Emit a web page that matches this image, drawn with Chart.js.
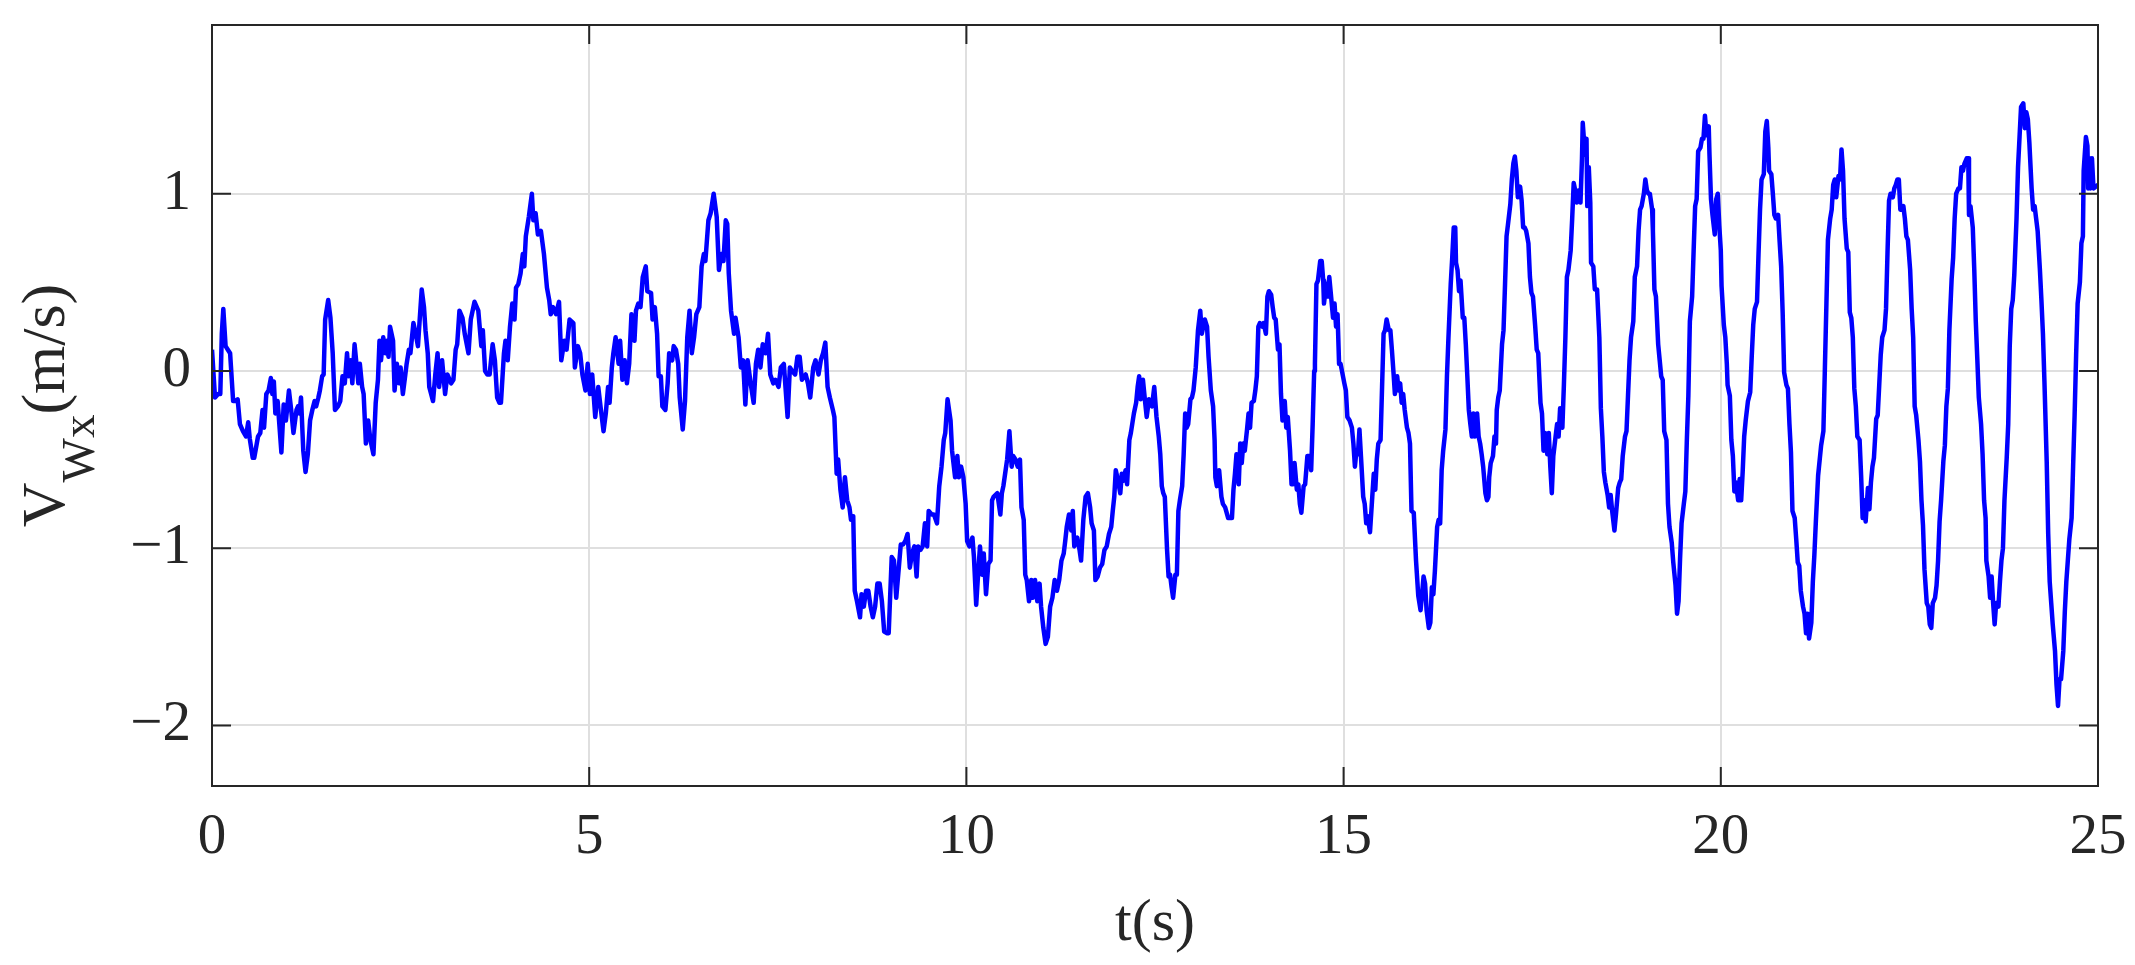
<!DOCTYPE html>
<html>
<head>
<meta charset="utf-8">
<title>Wind velocity V_Wx</title>
<script src="https://cdn.jsdelivr.net/npm/chart.js@4"></script>
<style>
  html, body { margin: 0; padding: 0; background: #ffffff; }
  #wrap { width: 2135px; height: 965px; }
</style>
</head>
<body>
<div id="wrap"><canvas id="wind-chart" width="2135" height="965"></canvas></div>
<script>
// time (s) and wind speed V_Wx (m/s)
const timeS = [
  0.00, 0.04, 0.08, 0.11, 0.13, 0.15, 0.18, 0.21, 0.24, 0.28,
  0.31, 0.34, 0.37, 0.41, 0.45, 0.48, 0.50, 0.54, 0.56, 0.61,
  0.64, 0.67, 0.69, 0.72, 0.75, 0.78, 0.80, 0.82, 0.84, 0.87,
  0.92, 0.95, 0.98, 1.02, 1.05, 1.08, 1.12, 1.14, 1.16, 1.18,
  1.21, 1.24, 1.27, 1.30, 1.33, 1.36, 1.38, 1.41, 1.43, 1.46,
  1.48, 1.50, 1.54, 1.57, 1.60, 1.63, 1.67, 1.70, 1.73, 1.76,
  1.79, 1.81, 1.84, 1.86, 1.89, 1.91, 1.94, 1.96, 1.99, 2.01,
  2.04, 2.07, 2.10, 2.14, 2.17, 2.20, 2.22, 2.24, 2.27, 2.30,
  2.32, 2.34, 2.36, 2.40, 2.42, 2.45, 2.48, 2.50, 2.53, 2.56,
  2.58, 2.61, 2.63, 2.67, 2.70, 2.73, 2.75, 2.78, 2.81, 2.83,
  2.86, 2.88, 2.93, 2.96, 2.99, 3.01, 3.05, 3.09, 3.12, 3.17,
  3.20, 3.23, 3.25, 3.28, 3.32, 3.35, 3.40, 3.43, 3.48, 3.53,
  3.57, 3.59, 3.62, 3.65, 3.68, 3.72, 3.75, 3.78, 3.81, 3.83,
  3.87, 3.89, 3.92, 3.95, 3.98, 4.01, 4.03, 4.06, 4.09, 4.12,
  4.14, 4.16, 4.20, 4.24, 4.26, 4.29, 4.32, 4.36, 4.40, 4.44,
  4.47, 4.49, 4.52, 4.56, 4.60, 4.63, 4.67, 4.70, 4.74, 4.79,
  4.81, 4.85, 4.88, 4.91, 4.95, 4.98, 5.01, 5.04, 5.08, 5.12,
  5.15, 5.19, 5.22, 5.25, 5.27, 5.30, 5.32, 5.35, 5.39, 5.41,
  5.44, 5.47, 5.50, 5.53, 5.56, 5.60, 5.62, 5.65, 5.68, 5.71,
  5.75, 5.77, 5.82, 5.84, 5.87, 5.90, 5.92, 5.95, 5.97, 6.01,
  6.04, 6.06, 6.10, 6.12, 6.15, 6.18, 6.20, 6.24, 6.27, 6.30,
  6.33, 6.36, 6.39, 6.42, 6.46, 6.49, 6.52, 6.54, 6.58, 6.61,
  6.65, 6.69, 6.72, 6.75, 6.78, 6.81, 6.83, 6.85, 6.88, 6.92,
  6.94, 6.98, 7.01, 7.04, 7.07, 7.10, 7.14, 7.18, 7.21, 7.24,
  7.27, 7.30, 7.34, 7.37, 7.40, 7.44, 7.47, 7.51, 7.54, 7.58,
  7.63, 7.66, 7.69, 7.73, 7.76, 7.79, 7.82, 7.87, 7.90, 7.93,
  7.97, 8.00, 8.04, 8.07, 8.10, 8.13, 8.16, 8.19, 8.23, 8.25,
  8.28, 8.30, 8.33, 8.36, 8.39, 8.42, 8.45, 8.47, 8.50, 8.52,
  8.55, 8.59, 8.61, 8.64, 8.67, 8.70, 8.73, 8.76, 8.79, 8.82,
  8.85, 8.88, 8.91, 8.95, 8.97, 9.01, 9.04, 9.07, 9.10, 9.13,
  9.16, 9.19, 9.22, 9.25, 9.28, 9.31, 9.34, 9.36, 9.39, 9.42,
  9.45, 9.48, 9.50, 9.54, 9.57, 9.61, 9.64, 9.67, 9.70, 9.72,
  9.75, 9.79, 9.81, 9.85, 9.88, 9.90, 9.93, 9.96, 9.99, 10.01,
  10.04, 10.08, 10.10, 10.13, 10.15, 10.18, 10.21, 10.23, 10.26, 10.29,
  10.32, 10.34, 10.36, 10.41, 10.43, 10.45, 10.47, 10.49, 10.52, 10.54,
  10.57, 10.60, 10.62, 10.65, 10.68, 10.71, 10.73, 10.76, 10.78, 10.80,
  10.83, 10.86, 10.88, 10.91, 10.94, 10.97, 10.99, 11.02, 11.05, 11.08,
  11.11, 11.14, 11.17, 11.20, 11.23, 11.26, 11.29, 11.31, 11.33, 11.36,
  11.39, 11.41, 11.43, 11.47, 11.50, 11.52, 11.55, 11.58, 11.61, 11.64,
  11.66, 11.69, 11.71, 11.74, 11.77, 11.80, 11.83, 11.86, 11.89, 11.92,
  11.94, 11.96, 11.98, 12.01, 12.04, 12.06, 12.08, 12.11, 12.13, 12.16,
  12.18, 12.22, 12.25, 12.27, 12.29, 12.31, 12.34, 12.37, 12.39, 12.42,
  12.46, 12.49, 12.52, 12.55, 12.57, 12.59, 12.61, 12.63, 12.66, 12.68,
  12.70, 12.72, 12.74, 12.77, 12.79, 12.81, 12.83, 12.86, 12.88, 12.90,
  12.92, 12.94, 12.97, 12.99, 13.01, 13.04, 13.06, 13.07, 13.10, 13.12,
  13.16, 13.19, 13.21, 13.24, 13.27, 13.29, 13.30, 13.32, 13.35, 13.38,
  13.40, 13.43, 13.47, 13.50, 13.52, 13.54, 13.56, 13.58, 13.61, 13.63,
  13.65, 13.67, 13.69, 13.72, 13.74, 13.76, 13.78, 13.81, 13.83, 13.85,
  13.87, 13.89, 13.92, 13.94, 13.97, 13.99, 14.01, 14.04, 14.06, 14.08,
  14.10, 14.13, 14.15, 14.17, 14.19, 14.22, 14.24, 14.26, 14.29, 14.31,
  14.33, 14.35, 14.38, 14.40, 14.42, 14.44, 14.47, 14.49, 14.52, 14.55,
  14.57, 14.59, 14.61, 14.62, 14.64, 14.66, 14.69, 14.71, 14.73, 14.74,
  14.77, 14.79, 14.81, 14.83, 14.86, 14.88, 14.90, 14.92, 14.94, 14.96,
  15.01, 15.03, 15.05, 15.08, 15.11, 15.13, 15.15, 15.17, 15.19, 15.21,
  15.23, 15.26, 15.28, 15.30, 15.32, 15.35, 15.38, 15.40, 15.42, 15.44,
  15.46, 15.49, 15.51, 15.53, 15.55, 15.57, 15.60, 15.62, 15.64, 15.66,
  15.68, 15.71, 15.73, 15.75, 15.77, 15.79, 15.81, 15.84, 15.86, 15.88,
  15.90, 15.93, 15.96, 15.99, 16.02, 16.04, 16.06, 16.08, 16.10, 16.13,
  16.15, 16.17, 16.19, 16.21, 16.24, 16.26, 16.28, 16.30, 16.32, 16.35,
  16.37, 16.39, 16.42, 16.44, 16.46, 16.48, 16.49, 16.51, 16.53, 16.55,
  16.58, 16.60, 16.62, 16.64, 16.66, 16.68, 16.70, 16.72, 16.74, 16.77,
  16.79, 16.81, 16.83, 16.85, 16.88, 16.90, 16.92, 16.93, 16.95, 16.98,
  17.00, 17.02, 17.03, 17.05, 17.07, 17.10, 17.12, 17.14, 17.16, 17.18,
  17.21, 17.23, 17.25, 17.27, 17.29, 17.31, 17.34, 17.36, 17.38, 17.40,
  17.42, 17.45, 17.47, 17.49, 17.51, 17.54, 17.56, 17.58, 17.61, 17.63,
  17.65, 17.67, 17.70, 17.72, 17.74, 17.76, 17.78, 17.81, 17.83, 17.85,
  17.87, 17.90, 17.92, 17.94, 17.96, 17.98, 18.01, 18.03, 18.05, 18.07,
  18.09, 18.12, 18.14, 18.16, 18.17, 18.20, 18.22, 18.23, 18.25, 18.27,
  18.28, 18.31, 18.33, 18.36, 18.39, 18.41, 18.43, 18.45, 18.47, 18.50,
  18.52, 18.54, 18.56, 18.59, 18.61, 18.64, 18.66, 18.68, 18.70, 18.73,
  18.75, 18.77, 18.79, 18.81, 18.84, 18.86, 18.89, 18.91, 18.93, 18.95,
  18.98, 19.00, 19.02, 19.04, 19.06, 19.09, 19.10, 19.12, 19.14, 19.17,
  19.19, 19.21, 19.23, 19.25, 19.28, 19.30, 19.32, 19.35, 19.37, 19.40,
  19.42, 19.44, 19.46, 19.48, 19.51, 19.53, 19.55, 19.57, 19.59, 19.62,
  19.64, 19.66, 19.68, 19.70, 19.73, 19.75, 19.77, 19.79, 19.81, 19.84,
  19.85, 19.87, 19.89, 19.92, 19.94, 19.96, 19.98, 20.00, 20.01, 20.04,
  20.06, 20.08, 20.09, 20.12, 20.14, 20.16, 20.18, 20.20, 20.23, 20.25,
  20.27, 20.29, 20.31, 20.33, 20.36, 20.39, 20.41, 20.43, 20.45, 20.48,
  20.50, 20.52, 20.54, 20.57, 20.59, 20.61, 20.63, 20.64, 20.67, 20.69,
  20.71, 20.73, 20.76, 20.78, 20.80, 20.82, 20.84, 20.87, 20.89, 20.91,
  20.93, 20.95, 20.98, 21.00, 21.02, 21.04, 21.06, 21.09, 21.11, 21.13,
  21.15, 21.17, 21.20, 21.22, 21.24, 21.26, 21.29, 21.33, 21.36, 21.38,
  21.40, 21.42, 21.45, 21.47, 21.49, 21.51, 21.53, 21.56, 21.58, 21.60,
  21.62, 21.64, 21.67, 21.69, 21.71, 21.73, 21.75, 21.77, 21.79, 21.81,
  21.84, 21.86, 21.88, 21.90, 21.92, 21.95, 21.97, 21.99, 22.01, 22.03,
  22.06, 22.08, 22.10, 22.12, 22.14, 22.17, 22.19, 22.21, 22.23, 22.25,
  22.28, 22.30, 22.32, 22.34, 22.36, 22.38, 22.40, 22.42, 22.44, 22.46,
  22.48, 22.51, 22.53, 22.55, 22.57, 22.59, 22.62, 22.64, 22.66, 22.68,
  22.70, 22.73, 22.75, 22.77, 22.79, 22.81, 22.84, 22.86, 22.88, 22.90,
  22.92, 22.95, 22.97, 22.99, 23.01, 23.03, 23.06, 23.08, 23.10, 23.12,
  23.15, 23.17, 23.19, 23.21, 23.23, 23.26, 23.28, 23.29, 23.31, 23.34,
  23.36, 23.38, 23.40, 23.42, 23.45, 23.47, 23.49, 23.51, 23.52, 23.55,
  23.57, 23.59, 23.61, 23.63, 23.65, 23.68, 23.70, 23.72, 23.74, 23.76,
  23.79, 23.81, 23.83, 23.85, 23.87, 23.89, 23.92, 23.94, 23.96, 23.98,
  24.01, 24.03, 24.05, 24.07, 24.09, 24.12, 24.14, 24.16, 24.18, 24.20,
  24.23, 24.25, 24.27, 24.29, 24.32, 24.34, 24.36, 24.38, 24.40, 24.43,
  24.45, 24.47, 24.49, 24.51, 24.54, 24.56, 24.58, 24.60, 24.62, 24.65,
  24.67, 24.69, 24.71, 24.73, 24.76, 24.78, 24.80, 24.81, 24.84, 24.86,
  24.87, 24.89, 24.90, 24.92, 24.94, 25.00
];

const windVx = [
  0.12, -0.15, -0.13, -0.13, 0.21, 0.35, 0.14, 0.12, 0.10, -0.17,
  -0.17, -0.16, -0.30, -0.34, -0.37, -0.29, -0.38, -0.49, -0.49, -0.37,
  -0.35, -0.22, -0.32, -0.13, -0.11, -0.04, -0.13, -0.06, -0.24, -0.17,
  -0.46, -0.19, -0.28, -0.11, -0.22, -0.35, -0.22, -0.20, -0.24, -0.15,
  -0.45, -0.57, -0.47, -0.28, -0.22, -0.17, -0.20, -0.15, -0.11, -0.03,
  -0.02, 0.29, 0.40, 0.30, 0.10, -0.22, -0.20, -0.17, -0.03, -0.07,
  0.10, -0.03, 0.06, -0.07, 0.15, 0.06, -0.07, 0.04, -0.09, -0.13,
  -0.41, -0.28, -0.39, -0.47, -0.18, -0.05, 0.17, 0.06, 0.19, 0.10,
  0.17, 0.08, 0.25, 0.17, -0.11, 0.04, -0.07, 0.02, -0.13, -0.03,
  0.04, 0.12, 0.10, 0.27, 0.21, 0.14, 0.27, 0.46, 0.36, 0.23,
  0.10, -0.09, -0.17, -0.02, 0.10, -0.09, 0.06, -0.13, -0.02, -0.07,
  -0.05, 0.12, 0.15, 0.34, 0.30, 0.21, 0.10, 0.29, 0.39, 0.34,
  0.14, 0.23, 0.00, -0.02, -0.02, 0.15, 0.06, -0.15, -0.18, -0.18,
  0.10, 0.17, 0.06, 0.25, 0.38, 0.29, 0.47, 0.49, 0.55, 0.66,
  0.59, 0.76, 0.87, 1.00, 0.85, 0.89, 0.77, 0.79, 0.66, 0.47,
  0.40, 0.32, 0.36, 0.32, 0.39, 0.06, 0.17, 0.12, 0.29, 0.27,
  0.02, 0.14, 0.10, -0.02, -0.11, 0.04, -0.13, -0.02, -0.26, -0.09,
  -0.20, -0.34, -0.24, -0.09, -0.18, 0.02, 0.10, 0.19, 0.04, 0.17,
  -0.05, 0.06, -0.07, 0.04, 0.32, 0.17, 0.34, 0.38, 0.36, 0.53,
  0.59, 0.45, 0.44, 0.29, 0.36, 0.21, -0.03, -0.03, -0.20, -0.22,
  -0.07, 0.10, 0.06, 0.14, 0.12, 0.04, -0.15, -0.33, -0.17, 0.19,
  0.34, 0.10, 0.19, 0.32, 0.36, 0.59, 0.66, 0.62, 0.85, 0.89,
  1.00, 0.87, 0.57, 0.66, 0.62, 0.85, 0.83, 0.55, 0.34, 0.21,
  0.30, 0.19, 0.02, 0.06, -0.19, 0.06, -0.07, -0.18, 0.04, 0.12,
  0.02, 0.15, 0.10, 0.21, -0.02, -0.07, -0.05, -0.09, 0.02, 0.04,
  -0.26, 0.02, 0.00, -0.02, 0.08, 0.08, -0.05, -0.02, -0.07, -0.15,
  0.02, 0.06, -0.02, 0.06, 0.10, 0.16, -0.09, -0.15, -0.22, -0.26,
  -0.58, -0.50, -0.67, -0.77, -0.60, -0.73, -0.77, -0.84, -0.82, -1.24,
  -1.30, -1.39, -1.26, -1.33, -1.24, -1.24, -1.33, -1.39, -1.33, -1.20,
  -1.20, -1.30, -1.47, -1.48, -1.48, -1.05, -1.07, -1.28, -1.13, -0.98,
  -0.98, -0.96, -0.92, -1.11, -1.03, -0.99, -1.16, -0.99, -1.01, -0.99,
  -0.86, -0.99, -0.79, -0.81, -0.81, -0.86, -0.65, -0.54, -0.39, -0.35,
  -0.16, -0.28, -0.45, -0.60, -0.48, -0.60, -0.54, -0.60, -0.75, -0.96,
  -0.99, -0.94, -1.05, -1.32, -1.18, -0.99, -1.15, -1.03, -1.26, -1.09,
  -1.07, -0.73, -0.71, -0.69, -0.75, -0.81, -0.69, -0.65, -0.56, -0.50,
  -0.34, -0.54, -0.48, -0.50, -0.54, -0.50, -0.77, -0.84, -1.15, -1.18,
  -1.30, -1.18, -1.28, -1.18, -1.30, -1.20, -1.33, -1.45, -1.54, -1.50,
  -1.33, -1.28, -1.18, -1.24, -1.18, -1.07, -1.03, -0.96, -0.88, -0.81,
  -0.90, -0.79, -0.99, -0.94, -1.01, -1.07, -0.84, -0.71, -0.69, -0.77,
  -0.86, -0.90, -1.18, -1.16, -1.11, -1.09, -1.01, -0.99, -0.92, -0.88,
  -0.79, -0.71, -0.56, -0.62, -0.69, -0.58, -0.62, -0.56, -0.64, -0.39,
  -0.35, -0.24, -0.18, -0.09, -0.03, -0.16, -0.05, -0.18, -0.26, -0.16,
  -0.20, -0.09, -0.26, -0.37, -0.47, -0.65, -0.69, -0.71, -1.01, -1.16,
  -1.15, -1.22, -1.28, -1.15, -1.15, -0.79, -0.73, -0.65, -0.47, -0.24,
  -0.32, -0.30, -0.16, -0.15, -0.11, 0.02, 0.16, 0.23, 0.34, 0.21,
  0.29, 0.25, 0.08, -0.11, -0.20, -0.39, -0.60, -0.65, -0.56, -0.71,
  -0.75, -0.77, -0.83, -0.83, -0.83, -0.67, -0.58, -0.47, -0.64, -0.41,
  -0.52, -0.41, -0.45, -0.33, -0.24, -0.32, -0.18, -0.17, -0.11, -0.03,
  0.25, 0.27, 0.25, 0.27, 0.21, 0.42, 0.45, 0.43, 0.36, 0.30,
  0.29, 0.12, 0.15, -0.13, -0.28, -0.17, -0.32, -0.26, -0.45, -0.64,
  -0.64, -0.52, -0.67, -0.64, -0.75, -0.80, -0.65, -0.64, -0.48, -0.48,
  -0.56, -0.30, 0.00, 0.04, 0.49, 0.51, 0.62, 0.62, 0.51, 0.38,
  0.49, 0.42, 0.53, 0.44, 0.30, 0.38, 0.25, 0.32, 0.04, 0.04,
  -0.07, -0.11, -0.26, -0.28, -0.32, -0.41, -0.54, -0.45, -0.47, -0.33,
  -0.48, -0.71, -0.75, -0.86, -0.82, -0.91, -0.71, -0.58, -0.67, -0.50,
  -0.41, -0.39, -0.09, 0.21, 0.23, 0.29, 0.23, 0.23, 0.12, 0.00,
  -0.13, -0.03, -0.11, -0.07, -0.18, -0.13, -0.22, -0.32, -0.35, -0.41,
  -0.79, -0.80, -1.07, -1.27, -1.35, -1.26, -1.16, -1.20, -1.35, -1.45,
  -1.42, -1.22, -1.26, -1.13, -0.88, -0.84, -0.86, -0.56, -0.45, -0.33,
  -0.03, 0.19, 0.49, 0.64, 0.81, 0.81, 0.61, 0.57, 0.45, 0.51,
  0.30, 0.30, 0.15, -0.03, -0.22, -0.30, -0.37, -0.24, -0.37, -0.24,
  -0.37, -0.41, -0.47, -0.54, -0.69, -0.73, -0.71, -0.60, -0.52, -0.48,
  -0.37, -0.41, -0.22, -0.15, -0.11, 0.15, 0.23, 0.49, 0.76, 0.83,
  0.94, 1.08, 1.17, 1.21, 1.13, 0.98, 1.04, 0.96, 0.81, 0.81,
  0.79, 0.72, 0.53, 0.44, 0.42, 0.25, 0.12, 0.10, -0.18, -0.24,
  -0.45, -0.35, -0.47, -0.35, -0.54, -0.69, -0.48, -0.37, -0.30, -0.37,
  -0.21, -0.32, -0.08, 0.19, 0.53, 0.57, 0.68, 0.86, 1.06, 1.02,
  0.95, 1.02, 0.95, 1.20, 1.40, 1.22, 1.31, 0.93, 1.15, 0.95,
  0.61, 0.59, 0.46, 0.46, 0.19, -0.21, -0.37, -0.57, -0.63, -0.70,
  -0.77, -0.70, -0.79, -0.90, -0.81, -0.66, -0.63, -0.61, -0.48, -0.37,
  -0.34, -0.14, 0.06, 0.19, 0.28, 0.53, 0.59, 0.79, 0.91, 0.93,
  1.00, 1.08, 1.02, 1.00, 1.00, 0.91, 0.79, 0.46, 0.42, 0.15,
  0.06, -0.03, -0.05, -0.34, -0.39, -0.75, -0.88, -0.97, -1.08, -1.21,
  -1.37, -1.30, -1.06, -0.86, -0.75, -0.68, -0.39, -0.14, 0.28, 0.42,
  0.68, 0.93, 0.97, 1.24, 1.26, 1.31, 1.31, 1.44, 1.33, 1.38,
  1.22, 0.97, 0.88, 0.77, 0.97, 1.00, 0.82, 0.68, 0.48, 0.26,
  0.19, 0.04, -0.08, -0.14, -0.39, -0.48, -0.68, -0.63, -0.73, -0.61,
  -0.73, -0.57, -0.37, -0.28, -0.17, -0.12, 0.08, 0.26, 0.35, 0.39,
  0.66, 0.91, 1.08, 1.11, 1.35, 1.41, 1.26, 1.13, 1.11, 1.00,
  0.88, 0.86, 0.88, 0.73, 0.59, 0.33, -0.01, -0.08, -0.10, -0.30,
  -0.46, -0.79, -0.83, -0.95, -1.08, -1.10, -1.24, -1.33, -1.37, -1.48,
  -1.37, -1.51, -1.42, -1.19, -1.04, -0.85, -0.59, -0.42, -0.34, 0.02,
  0.38, 0.74, 0.86, 0.91, 1.05, 1.08, 0.98, 1.10, 1.08, 1.25,
  1.13, 0.86, 0.69, 0.67, 0.33, 0.30, 0.19, -0.10, -0.20, -0.37,
  -0.39, -0.59, -0.83, -0.73, -0.85, -0.66, -0.78, -0.63, -0.54, -0.49,
  -0.27, -0.25, -0.08, 0.09, 0.19, 0.23, 0.35, 0.67, 0.96, 1.00,
  0.98, 1.03, 1.05, 1.08, 1.08, 0.91, 0.91, 0.93, 0.86, 0.76,
  0.74, 0.57, 0.35, 0.19, -0.20, -0.25, -0.39, -0.51, -0.73, -0.87,
  -1.12, -1.31, -1.33, -1.43, -1.45, -1.31, -1.28, -1.21, -1.07, -0.85,
  -0.73, -0.51, -0.42, -0.20, -0.10, 0.23, 0.52, 0.64, 0.86, 1.00,
  1.03, 1.03, 1.15, 1.13, 1.17, 1.20, 1.20, 0.88, 0.93, 0.81,
  0.57, 0.28, 0.07, -0.15, -0.30, -0.47, -0.73, -0.83, -1.07, -1.16,
  -1.28, -1.16, -1.31, -1.43, -1.31, -1.33, -1.19, -1.07, -1.00, -0.73,
  -0.49, -0.30, 0.14, 0.35, 0.40, 0.54, 0.86, 1.15, 1.32, 1.49,
  1.51, 1.37, 1.46, 1.42, 1.29, 1.03, 0.91, 0.93, 0.86, 0.79,
  0.57, 0.40, 0.21, -0.06, -0.51, -0.92, -1.19, -1.31, -1.43, -1.58,
  -1.77, -1.89, -1.74, -1.74, -1.58, -1.36, -1.19, -1.07, -0.95, -0.83,
  -0.54, -0.25, 0.09, 0.38, 0.50, 0.72, 0.76, 1.13, 1.32, 1.27,
  1.03, 1.20, 1.03, 1.20, 1.03, 1.05
];

const xTicks = [0, 5, 10, 15, 20, 25];
const yTicks = [-2, -1, 0, 1];
const xLimits = [0, 25];
const yLimits = [-2.342, 1.952];

const axisColor = '#262626';
const gridColor = '#dfdfdf';
const serif = '"Liberation Serif", "Times New Roman", serif';

// box round the plot + inward tick marks on all four sides, like matlab
const matlabAxes = {
  id: 'matlabAxes',
  afterDatasetsDraw(chart) {
    const { ctx, chartArea: a, scales: { x, y } } = chart;
    const len = 19;
    ctx.save();
    ctx.strokeStyle = axisColor;
    ctx.lineWidth = 2;
    ctx.strokeRect(a.left, a.top, a.right - a.left, a.bottom - a.top);
    ctx.beginPath();
    xTicks.forEach(v => {
      const px = x.getPixelForValue(v);
      ctx.moveTo(px, a.bottom); ctx.lineTo(px, a.bottom - len);
      ctx.moveTo(px, a.top); ctx.lineTo(px, a.top + len);
    });
    yTicks.forEach(v => {
      const py = y.getPixelForValue(v);
      ctx.moveTo(a.left, py); ctx.lineTo(a.left + len, py);
      ctx.moveTo(a.right, py); ctx.lineTo(a.right - len, py);
    });
    ctx.stroke();
    ctx.restore();
  },
  afterDraw(chart) {
    const { ctx, chartArea: a } = chart;
    ctx.save();
    ctx.fillStyle = axisColor;
    ctx.textBaseline = 'alphabetic';

    // x title
    ctx.font = '60px ' + serif;
    ctx.textAlign = 'center';
    ctx.fillText('t(s)', (a.left + a.right) / 2, 940);

    // y title with subscript, rotated
    ctx.textAlign = 'left';
    ctx.translate(64, (a.top + a.bottom) / 2);
    ctx.rotate(-Math.PI / 2);
    const mainFont = '62px ' + serif;
    const subFont = '47px ' + serif;
    ctx.font = mainFont;
    const wV = ctx.measureText('V').width;
    const wUnit = ctx.measureText('(m/s)').width;
    ctx.font = subFont;
    const wSub = ctx.measureText('Wx').width;
    let pos = -(wV + wSub + wUnit) / 2;
    ctx.font = mainFont;
    ctx.fillText('V', pos, 0);
    pos += wV;
    ctx.font = subFont;
    ctx.fillText('Wx', pos, 30);
    pos += wSub;
    ctx.font = mainFont;
    ctx.fillText('(m/s)', pos, 0);
    ctx.restore();
  }
};

const fmt = v => (v < 0 ? '\u2212' + Math.abs(v) : String(v));

new Chart(document.getElementById('wind-chart'), {
  type: 'line',
  data: {
    datasets: [{
      label: 'V_Wx',
      data: timeS.map((t, i) => ({ x: t, y: windVx[i] })),
      borderColor: '#0000ff',
      borderWidth: 4.5,
      pointRadius: 0,
      tension: 0,
      fill: false,
      borderJoinStyle: 'round'
    }]
  },
  options: {
    responsive: false,
    animation: false,
    events: [],
    layout: { padding: { top: 25, right: 37, bottom: 0, left: 0 } },
    plugins: {
      legend: { display: false },
      tooltip: { enabled: false }
    },
    scales: {
      x: {
        type: 'linear',
        min: xLimits[0],
        max: xLimits[1],
        afterBuildTicks: s => { s.ticks = xTicks.map(v => ({ value: v })); },
        afterFit: s => { s.height = 179; s.paddingLeft = 0; s.paddingRight = 0; },
        grid: { color: gridColor, lineWidth: 2, drawTicks: false },
        border: { display: false },
        ticks: {
          padding: 18,
          color: axisColor,
          maxRotation: 0,
          autoSkip: false,
          font: { family: serif, size: 57 },
          callback: fmt
        }
      },
      y: {
        type: 'linear',
        min: yLimits[0],
        max: yLimits[1],
        afterBuildTicks: s => { s.ticks = yTicks.map(v => ({ value: v })); },
        afterFit: s => { s.width = 212; s.paddingTop = 0; s.paddingBottom = 0; },
        grid: { color: gridColor, lineWidth: 2, drawTicks: false },
        border: { display: false },
        ticks: {
          padding: 21,
          color: axisColor,
          font: { family: serif, size: 57 },
          callback: fmt
        }
      }
    }
  },
  plugins: [matlabAxes]
});
</script>
</body>
</html>
